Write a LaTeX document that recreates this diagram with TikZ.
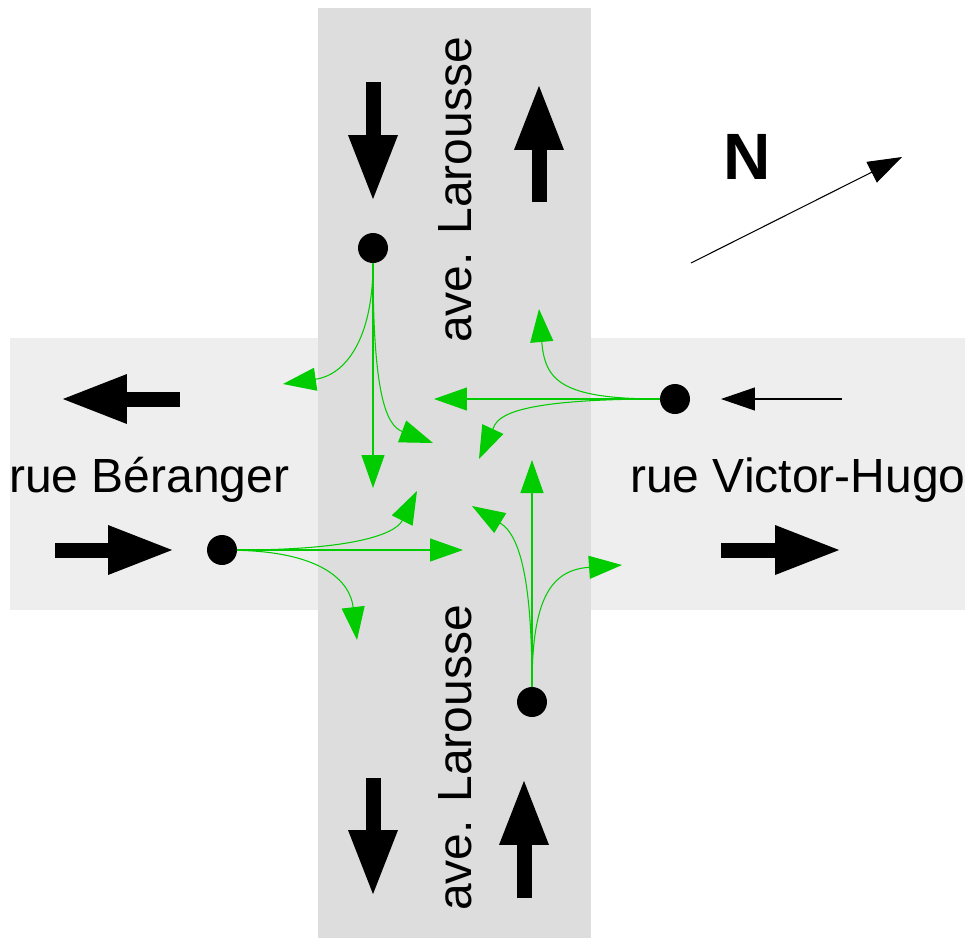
\documentclass[tikz,border=0pt]{standalone}
\usepackage{fontspec}
\setmainfont{Liberation Sans}
\usetikzlibrary{arrows.meta}
\definecolor{avegray}{RGB}{221,221,221}
\definecolor{ruegray}{RGB}{238,238,238}
\definecolor{turngreen}{RGB}{0,204,0}
\tikzset{
  bigarrow/.style={line width=0.3cm,-{Triangle[length=1.34cm,width=0.9cm]}},
  thinarrow/.style={line width=0.6pt,-{Triangle[length=0.68cm,width=0.46cm]}},
  turn/.style={turngreen,line width=0.6pt,-{Triangle[length=0.66cm,width=0.46cm]}},
  dot/.style={circle,fill=black,inner sep=0pt,minimum size=0.6cm},
  streetname/.style={font=\fontsize{27.3}{30}\selectfont,inner sep=0pt}
}
\begin{document}
\begin{tikzpicture}[x=0.02cm,y=-0.02cm]%
  \useasboundingbox (0,0) rectangle (965,938);
  % streets
  \fill[ruegray] (10,338) rectangle (965,610);
  \fill[avegray] (318,8) rectangle (591,938);

  % traffic directions (from x/y to x/y)
  \foreach \xa/\ya/\xb/\yb in {373/82/373/202, 539/202/539/83,
      180/399/60/399, 55/550/175/550, 721/550/842/550,
      373/778/373/897, 524/898/524/778}{
    \draw[bigarrow] (\xa,\ya) -- (\xb,\yb);
  }

  \node[streetname,anchor=base west] (beranger) at (9,492) {rue Béranger};
  \node[streetname,anchor=base west] (hugo) at (630,492) {rue Victor-Hugo};
  \node[streetname,rotate=90,anchor=base] (laNorth) at (471,190) {ave. Larousse};
  \node[streetname,rotate=90,anchor=base] (laSouth) at (471,758) {ave. Larousse};

  % north
  \node[font=\bfseries\fontsize{37.3}{40}\selectfont] (north) at (747,157) {N};
  \coordinate (nFrom) at (691,263);
  \coordinate (nTo) at (902,157);
  \draw[thinarrow] (nFrom) -- (nTo);

  % stop points
  \node[dot] (dTop) at (373,248) {};
  \node[dot] (dLeft) at (222,550) {};
  \node[dot] (dRight) at (675,399) {};
  \node[dot] (dBottom) at (532,702) {};

  \coordinate (inFrom) at (842,399);
  \coordinate (inTo) at (721,399);
  \draw[thinarrow] (inFrom) -- (inTo);

  % turning movements
  \coordinate (tTopL) at (283,384);
  \coordinate (tTopS) at (373,488);
  \coordinate (tTopR) at (433,443);
  \draw[turn] (dTop) .. controls (373,340) and (345,375) .. (tTopL);
  \draw[turn] (dTop) -- (tTopS);
  \draw[turn] (dTop) .. controls (373,390) and (385,425) .. (tTopR);

  \coordinate (tRightL) at (479,459);
  \coordinate (tRightS) at (434,399);
  \coordinate (tRightR) at (539,309);
  \draw[turn] (dRight) .. controls (500,399) and (497,420) .. (tRightL);
  \draw[turn] (dRight) -- (tRightS);
  \draw[turn] (dRight) .. controls (560,399) and (545,380) .. (tRightR);

  \coordinate (tLeftL) at (417,491);
  \coordinate (tLeftS) at (463,550);
  \coordinate (tLeftR) at (357,640);
  \draw[turn] (dLeft) .. controls (350,550) and (395,535) .. (tLeftL);
  \draw[turn] (dLeft) -- (tLeftS);
  \draw[turn] (dLeft) .. controls (320,552) and (350,580) .. (tLeftR);

  \coordinate (tBottomL) at (472,506);
  \coordinate (tBottomS) at (532,460);
  \coordinate (tBottomR) at (622,565);
  \draw[turn] (dBottom) .. controls (532,580) and (520,535) .. (tBottomL);
  \draw[turn] (dBottom) -- (tBottomS);
  \draw[turn] (dBottom) .. controls (532,600) and (550,570) .. (tBottomR);
\end{tikzpicture}
\end{document}
